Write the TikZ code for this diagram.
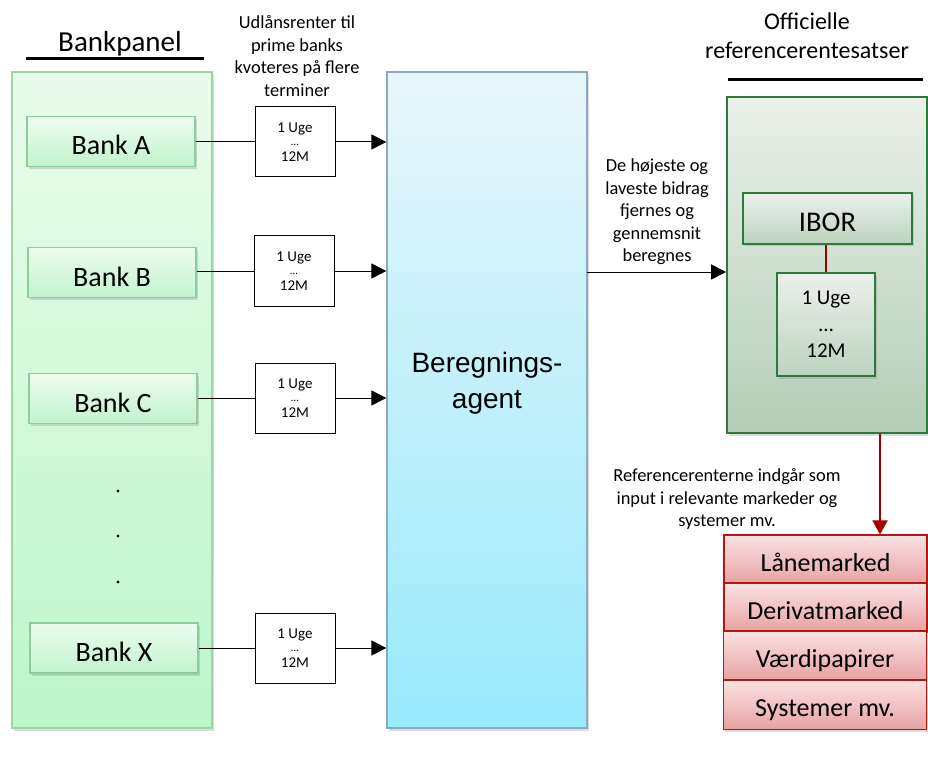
\documentclass[tikz,border=0pt]{standalone}
\usepackage{fontspec}
\setmainfont{Carlito}
\newfontfamily\arialfont{Liberation Sans}
\usetikzlibrary{arrows.meta,shadows}
\definecolor{bpTop}{HTML}{E9FCEB}
\definecolor{bpBot}{HTML}{BCF6CA}
\definecolor{bpLine}{HTML}{9BD7A6}
\definecolor{bkTop}{HTML}{ECFDEE}
\definecolor{bkBot}{HTML}{C2F3CD}
\definecolor{bkLine}{HTML}{8FCC9B}
\definecolor{agTop}{HTML}{E8F6FA}
\definecolor{agBot}{HTML}{98EAFB}
\definecolor{agLine}{HTML}{8CA9C4}
\definecolor{ipTop}{HTML}{EAF1EA}
\definecolor{ipBot}{HTML}{B4CEB7}
\definecolor{ipLine}{HTML}{2F7A3A}
\definecolor{mkTop}{HTML}{F9E2E2}
\definecolor{mkBot}{HTML}{E8A2A2}
\definecolor{mkLine}{HTML}{B01818}
\definecolor{darkred}{HTML}{A50000}
\tikzset{
  shad/.style={drop shadow={shadow xshift=1.5pt,shadow yshift=-2.5pt,opacity=.28}},
  bankpanel/.style={draw=bpLine,line width=1.3pt,top color=bpTop,bottom color=bpBot,shad,
    minimum width=200pt,minimum height=656pt,inner sep=0pt},
  bankbox/.style={draw=bkLine,line width=1.3pt,top color=bkTop,bottom color=bkBot,shad,
    minimum width=168pt,minimum height=50pt,inner sep=0pt,text height=27pt,text depth=0pt,
    font=\fontsize{28}{32}\selectfont},
  termbox/.style={draw=black,line width=1pt,fill=white,minimum width=80pt,minimum height=70pt,
    inner sep=0pt,align=center,font=\fontsize{15}{15}\selectfont},
  agentbox/.style={draw=agLine,line width=1.3pt,top color=agTop,bottom color=agBot,shad,
    minimum width=200pt,minimum height=656pt,inner sep=0pt},
  agenttxt/.style={inner sep=0pt,align=center,font=\arialfont\fontsize{28}{36}\selectfont},
  ibpanel/.style={draw=ipLine,line width=1.8pt,top color=ipTop,bottom color=ipBot,shad,
    minimum width=200pt,minimum height=336pt,inner sep=0pt},
  ibbox/.style={draw=ipLine,line width=1.8pt,top color=ipTop,bottom color=ipBot!90!white,shad,
    inner sep=0pt,align=center},
  mkbox/.style={draw=mkLine,line width=1.5pt,top color=mkTop,bottom color=mkBot,shad,
    minimum width=203pt,minimum height=48.7pt,inner sep=0pt,text height=23pt,text depth=0pt,
    font=\fontsize{26}{30}\selectfont},
  label/.style={align=center,inner sep=0pt,font=\fontsize{18.4}{22.5}\selectfont},
  conn/.style={draw=black,line width=1pt},
  arr/.style={draw=black,line width=1pt,-{Triangle[length=15pt,width=15pt]}},
  redarr/.style={draw=darkred,line width=1.8pt,-{Triangle[length=14pt,width=15pt]}},
}
\begin{document}
\begin{tikzpicture}[x=1pt,y=-1pt]
\useasboundingbox[fill=white] (0,0) rectangle (928,767);

% Bank panel
\node[anchor=base,inner sep=0pt,font=\fontsize{29}{34}\selectfont] (bptitle) at (120,52) {Bankpanel};
\coordinate (bpl) at (26,59);
\coordinate (bpr) at (204,59);
\draw[line width=3pt] (bpl) -- (bpr);
\node[bankpanel] (panel) at (112,400) {};
\node[bankbox] (bA) at (111,141.5) {Bank A};
\node[bankbox] (bB) at (112,272.5) {Bank B};
\node[bankbox] (bC) at (113,398.5) {Bank C};
\node[bankbox] (bX) at (114,648) {Bank X};
\fill (118,491) circle (1.7pt);
\fill (118,536) circle (1.7pt);
\fill (118,582) circle (1.7pt);

% Agent
\node[agentbox] (agent) at (487,400) {};
\node[agenttxt] (agenttext) at (487,383) {Beregnings-\\agent};

% term boxes
\node[termbox] (tA) at (295,142) {1 Uge\\[-2pt]{\fontsize{11}{11}\selectfont …}\\[1pt]12M};
\node[termbox] (tB) at (294,271) {1 Uge\\[-2pt]{\fontsize{11}{11}\selectfont …}\\[1pt]12M};
\node[termbox] (tC) at (295,398) {1 Uge\\[-2pt]{\fontsize{11}{11}\selectfont …}\\[1pt]12M};
\node[termbox] (tX) at (295,648) {1 Uge\\[-2pt]{\fontsize{11}{11}\selectfont …}\\[1pt]12M};

\foreach \b/\t in {bA/tA,bB/tB,bC/tC,bX/tX}{
  \draw[conn] (\b.east |- \t.west) -- (\t.west);
  \draw[arr] (\t.east) -- (\t.east -| agent.west);
}

\node[label] (toplabel) at (297,56) {Udlånsrenter til\\prime banks\\kvoteres på flere\\terminer};

% Right side
\node[align=center,inner sep=0pt,font=\fontsize{24}{29}\selectfont] (offtitle) at (807,36) {Officielle\\referencerentesatser};
\coordinate (orl) at (728,80);
\coordinate (orr) at (923,80);
\draw[line width=3pt] (orl) -- (orr);

\node[ibpanel] (ipanel) at (827,265) {};
\node[ibbox,minimum width=169pt,minimum height=51pt,text height=26.4pt,text depth=0pt,
  font=\fontsize{28.5}{32}\selectfont] (ibor) at (827.5,218.5) {IBOR};
\node[ibbox,minimum width=98pt,minimum height=103pt,font=\fontsize{21}{26.5}\selectfont] (inner) at (826,324.5) {1 Uge\\…\\12M};
\draw[draw=darkred,line width=1.5pt] (ibor.south -| inner.north) -- (inner.north);

\coordinate (aout) at (587,272);
\draw[arr] (aout) -- (aout -| ipanel.west);
\node[label] (midlabel) at (657,212) {De højeste og\\laveste bidrag\\fjernes og\\gennemsnit\\beregnes};

% markets
\node[mkbox] (m1) at (825.5,559.5) {Lånemarked};
\node[mkbox] (m2) at (825.5,607.5) {Derivatmarked};
\node[mkbox] (m3) at (825,655.5) {Værdipapirer};
\node[mkbox] (m4) at (825,705) {Systemer mv.};

\coordinate (rx) at (880,0);
\draw[redarr] (ipanel.south -| rx) -- (m1.north -| rx);
\node[label] (botlabel) at (727,499) {Referencerenterne indgår som\\input i relevante markeder og\\systemer mv.};
\end{tikzpicture}
\end{document}
